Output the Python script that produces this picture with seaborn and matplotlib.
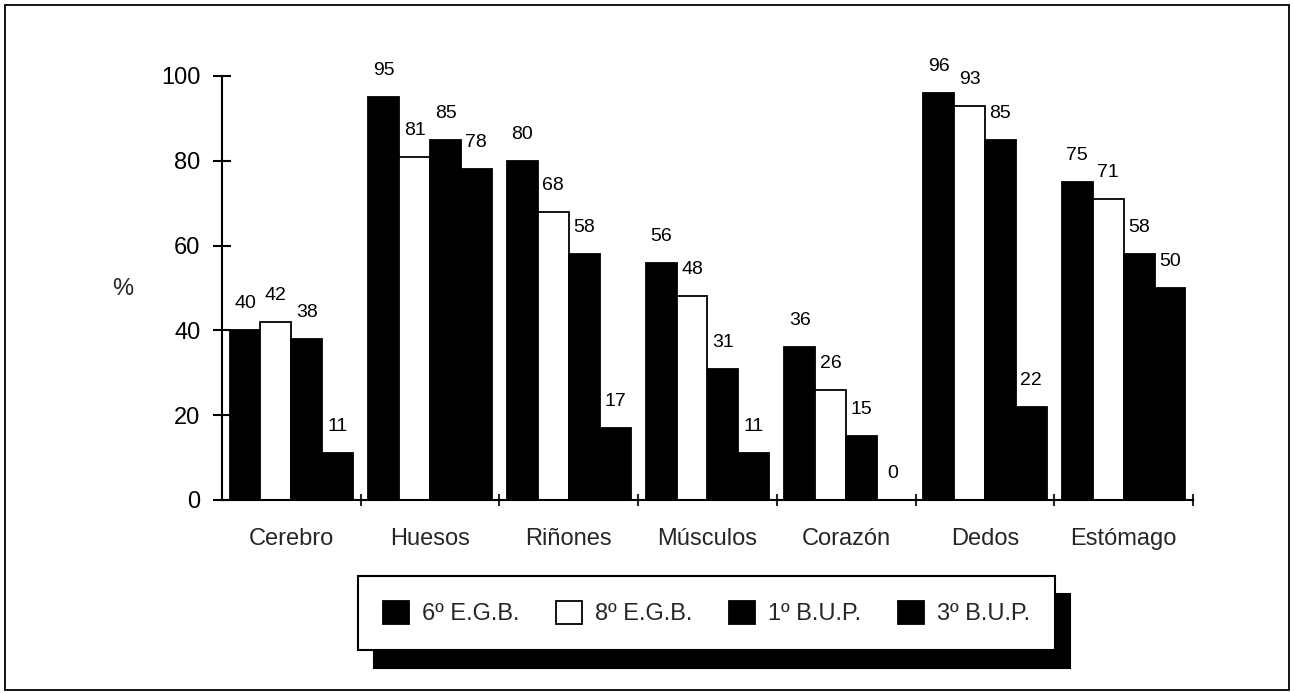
import matplotlib
matplotlib.use("Agg")
import matplotlib.pyplot as plt
from matplotlib.patches import Patch, Rectangle
import seaborn as sns
import pandas as pd

categories = ["Cerebro", "Huesos", "Riñones", "Músculos", "Corazón", "Dedos", "Estómago"]
series_names = ["6º E.G.B.", "8º E.G.B.", "1º B.U.P.", "3º B.U.P."]
egb6 = [40, 95, 80, 56, 36, 96, 75]
egb8 = [42, 81, 68, 48, 26, 93, 71]
bup1 = [38, 85, 58, 31, 15, 85, 58]
bup3 = [11, 78, 17, 11, 0, 22, 50]
y_ticks = [0, 20, 40, 60, 80, 100]
colors = ["black", "white", "black", "black"]

series_values = [egb6, egb8, bup1, bup3]
rows = []
for name, vals in zip(series_names, series_values):
    for cat, v in zip(categories, vals):
        rows.append({"Órgano": cat, "Curso": name, "Porcentaje": v})
df = pd.DataFrame(rows)

sns.set_style("white")
plt.rcParams["font.family"] = ["Liberation Sans", "DejaVu Sans"]

fig = plt.figure(figsize=(12.94, 6.93), dpi=100)
ax = fig.add_axes([222 / 1294, 1 - 500 / 693, (1193 - 222) / 1294, (500 - 76) / 693])

sns.barplot(data=df, x="Órgano", y="Porcentaje", hue="Curso", order=categories,
            hue_order=series_names, palette=colors, width=0.89, edgecolor="black",
            linewidth=1.3, saturation=1, legend=False, ax=ax)

for cont, vals in zip(ax.containers, series_values):
    ax.bar_label(cont, labels=[str(v) for v in vals], padding=13, fontsize=14, color="black")

ax.set_xlim(-0.5, len(categories) - 0.5)
ax.set_ylim(0, 100)
ax.set_yticks(y_ticks)
ax.set_yticklabels([str(t) for t in y_ticks], fontsize=17)
ax.tick_params(axis="y", direction="inout", length=13, width=1.5, pad=9, left=True, colors="black")
ax.set_xticks(range(len(categories)))
ax.set_xticklabels(categories, fontsize=17)
ax.tick_params(axis="x", which="major", length=0, pad=20)
ax.set_xticks([i + 0.5 for i in range(len(categories))], minor=True)
ax.tick_params(axis="x", which="minor", direction="inout", length=8, width=1.5, bottom=True)
ax.set_xlabel("")
ax.set_ylabel("")
for s in ["top", "right"]:
    ax.spines[s].set_visible(False)
for s in ["left", "bottom"]:
    ax.spines[s].set_color("black")
    ax.spines[s].set_linewidth(1.5)

fig.text(123 / 1294, 1 - 289 / 693, "%", fontsize=17, ha="center", va="center")

handles = [Patch(facecolor=c, edgecolor="black", linewidth=1.3) for c in colors]
leg = fig.legend(handles, series_names, loc="center",
                 bbox_to_anchor=((358 + 1055) / 2 / 1294, 1 - 613 / 693),
                 ncol=4, fontsize=17, frameon=True, fancybox=False,
                 handlelength=1.1, handleheight=1.15, handletextpad=0.55,
                 columnspacing=1.55, borderpad=1.05,
                 shadow={"ox": 11, "oy": -13, "color": "black", "alpha": 1})
leg.get_frame().set_edgecolor("black")
leg.get_frame().set_linewidth(1.5)
leg.get_frame().set_facecolor("white")
leg.get_frame().set_alpha(1)

fig.patches.append(Rectangle((5 / 1294, 3 / 693), (1289 - 5) / 1294, (690 - 5) / 693,
                             transform=fig.transFigure, fill=False,
                             edgecolor="black", linewidth=1.3))

fig.savefig("out.png", dpi=100)
